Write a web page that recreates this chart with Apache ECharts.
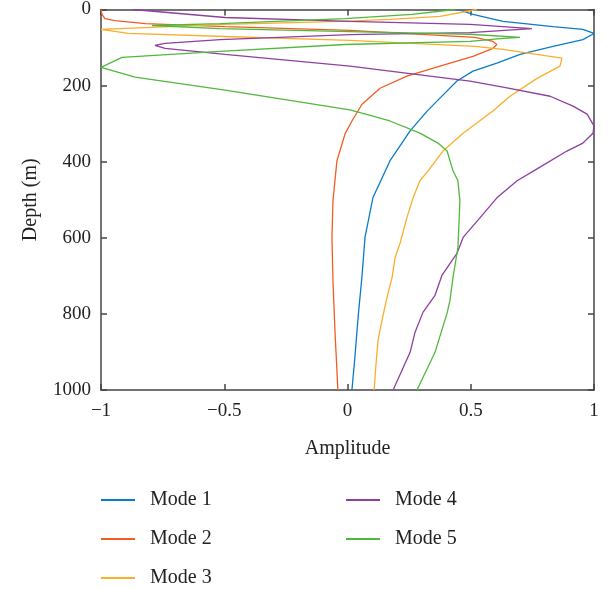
<!DOCTYPE html>
<html>
<head>
<meta charset="utf-8">
<script src="https://cdn.jsdelivr.net/npm/echarts@6/dist/echarts.min.js"></script>
<style>
  html, body { margin: 0; padding: 0; background: #fff; }
  #chart { width: 608px; height: 590px; }
</style>
</head>
<body>
<div id="chart"></div>
<script>
// Vertical mode profiles: depth (m) and normalised amplitude along each profile
const mode1Depth = [0, 13, 31, 45, 52, 63, 79, 97, 118, 141, 162, 188, 233, 267, 319, 398, 495, 599, 699, 809, 914, 1000];
const mode1Amp   = [0.448, 0.509, 0.631, 0.834, 0.955, 1.0, 0.955, 0.834, 0.70, 0.606, 0.509, 0.444, 0.375, 0.323, 0.254, 0.172, 0.103, 0.071, 0.059, 0.043, 0.030, 0.018];

const mode2Depth = [0, 13, 24, 29, 37, 45, 55, 73, 84, 92, 102, 123, 149, 175, 207, 249, 293, 327, 398, 503, 599, 712, 843, 1000];
const mode2Amp   = [-1.0, -0.996, -0.984, -0.943, -0.82, -0.497, 0.010, 0.517, 0.590, 0.606, 0.590, 0.509, 0.375, 0.241, 0.132, 0.059, 0.018, -0.010, -0.043, -0.059, -0.063, -0.059, -0.051, -0.039];

const mode3Depth = [0, 18, 26, 31, 39, 52, 63, 71, 81, 97, 105, 128, 149, 181, 228, 267, 325, 372, 424, 450, 495, 547, 615, 652, 704, 757, 817, 869, 929, 1000];
const mode3Amp   = [0.525, 0.375, 0.172, -0.030, -0.497, -1.0, -0.890, -0.497, 0.010, 0.517, 0.631, 0.870, 0.862, 0.769, 0.659, 0.590, 0.469, 0.387, 0.327, 0.294, 0.266, 0.241, 0.213, 0.193, 0.181, 0.160, 0.140, 0.124, 0.116, 0.108];

const mode4Depth = [0, 21, 31, 39, 50, 61, 66, 79, 89, 94, 102, 110, 118, 149, 188, 204, 228, 254, 275, 306, 325, 351, 372, 419, 450, 495, 547, 599, 641, 699, 751, 796, 848, 901, 1000];
const mode4Amp   = [-0.870, -0.497, 0.010, 0.497, 0.748, 0.497, 0.010, -0.517, -0.740, -0.781, -0.740, -0.619, -0.497, 0.010, 0.497, 0.631, 0.822, 0.915, 0.972, 1.0, 0.996, 0.955, 0.890, 0.769, 0.688, 0.606, 0.538, 0.469, 0.444, 0.383, 0.355, 0.306, 0.274, 0.254, 0.185];

const mode5Depth = [0, 13, 24, 37, 42, 50, 58, 65, 73, 76, 84, 92, 110, 126, 152, 178, 212, 264, 280, 293, 325, 351, 372, 424, 450, 503, 626, 704, 764, 798, 901, 1000];
const mode5Amp   = [0.436, 0.262, -0.010, -0.517, -0.793, -0.517, 0.010, 0.497, 0.700, 0.631, 0.497, -0.010, -0.517, -0.915, -1.0, -0.862, -0.497, 0.010, 0.103, 0.172, 0.294, 0.367, 0.404, 0.428, 0.448, 0.456, 0.448, 0.428, 0.416, 0.404, 0.355, 0.282];

const modeNames  = ['Mode 1', 'Mode 2', 'Mode 3', 'Mode 4', 'Mode 5'];
const modeColors = ['#0A7BC8', '#F25C22', '#FBAE2C', '#8E3FA0', '#50B83C'];
const xTicks = { min: -1, max: 1, step: 0.5 };
const yTicks = { min: 0, max: 1000, step: 200 };

const profiles = [
  [mode1Amp, mode1Depth],
  [mode2Amp, mode2Depth],
  [mode3Amp, mode3Depth],
  [mode4Amp, mode4Depth],
  [mode5Amp, mode5Depth]
];

const fontFamily = '"Liberation Serif", "DejaVu Serif", serif';
const axisColor = '#444';
const textColor = '#222';

const series = profiles.map(([amp, depth], i) => ({
  name: modeNames[i],
  type: 'line',
  xAxisIndex: 0,
  yAxisIndex: 0,
  data: amp.map((a, k) => [a, depth[k]]),
  showSymbol: false,
  symbol: 'none',
  smooth: false,
  lineStyle: { color: modeColors[i], width: 1.3 },
  itemStyle: { color: modeColors[i] },
  emphasis: { disabled: true },
  animation: false
}));

const fmtMinus = v => String(v).replace('-', '\u2212');
const fmtPlain = v => String(v);

const legendBase = {
  orient: 'vertical', top: 489, height: 100, padding: 0,
  icon: 'rect', itemWidth: 34, itemHeight: 2, itemGap: 17,
  textStyle: { fontFamily, fontSize: 20, color: textColor, lineHeight: 22, padding: [0, 0, 0, 10] },
  selectedMode: false
};

const chart = echarts.init(document.getElementById('chart'), null, { renderer: 'canvas' });
chart.setOption({
  backgroundColor: '#fff',
  animation: false,
  grid: { left: 101, right: 14, top: 8, bottom: 200, containLabel: false },
  xAxis: [
    {
      type: 'value', position: 'bottom',
      min: xTicks.min, max: xTicks.max, interval: xTicks.step,
      name: 'Amplitude', nameLocation: 'middle', nameGap: 49,
      nameTextStyle: { fontFamily, fontSize: 20, color: textColor },
      axisLine: { show: true, onZero: false, lineStyle: { color: axisColor, width: 1.5 } },
      axisTick: { show: true, inside: true, length: 6, lineStyle: { color: axisColor, width: 1.5 } },
      axisLabel: { formatter: fmtMinus, fontFamily, fontSize: 19, color: textColor, margin: 12 },
      splitLine: { show: false }
    },
    {
      type: 'value', position: 'top',
      min: xTicks.min, max: xTicks.max, interval: xTicks.step,
      axisLine: { show: true, onZero: false, lineStyle: { color: axisColor, width: 1.5 } },
      axisTick: { show: true, inside: true, length: 6, lineStyle: { color: axisColor, width: 1.5 } },
      axisLabel: { show: false },
      splitLine: { show: false }
    }
  ],
  yAxis: [
    {
      type: 'value', position: 'left', inverse: true,
      min: yTicks.min, max: yTicks.max, interval: yTicks.step,
      name: 'Depth (m)', nameLocation: 'middle', nameGap: 60, nameRotate: 90,
      nameTextStyle: { fontFamily, fontSize: 20, color: textColor },
      axisLine: { show: true, onZero: false, lineStyle: { color: axisColor, width: 1.5 } },
      axisTick: { show: true, inside: true, length: 6, lineStyle: { color: axisColor, width: 1.5 } },
      axisLabel: { formatter: fmtPlain, fontFamily, fontSize: 19, color: textColor, margin: 10 },
      splitLine: { show: false }
    },
    {
      type: 'value', position: 'right', inverse: true,
      min: yTicks.min, max: yTicks.max, interval: yTicks.step,
      axisLine: { show: true, onZero: false, lineStyle: { color: axisColor, width: 1.5 } },
      axisTick: { show: true, inside: true, length: 6, lineStyle: { color: axisColor, width: 1.5 } },
      axisLabel: { show: false },
      splitLine: { show: false }
    }
  ],
  legend: [
    Object.assign({}, legendBase, { left: 101, data: modeNames.slice(0, 3) }),
    Object.assign({}, legendBase, { left: 346, data: modeNames.slice(3) })
  ],
  series
});
</script>
</body>
</html>
